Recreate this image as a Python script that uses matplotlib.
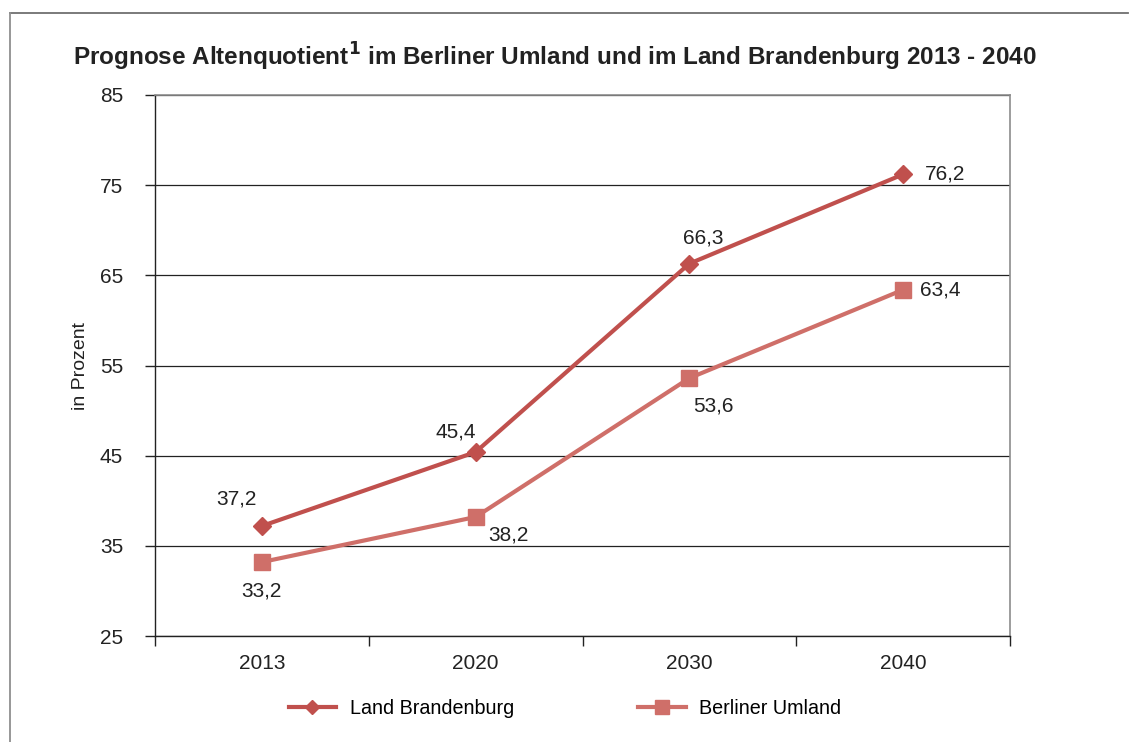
import matplotlib
matplotlib.use("Agg")
import matplotlib.pyplot as plt
from matplotlib.lines import Line2D

plt.rcParams['font.family'] = ['Liberation Sans', 'DejaVu Sans']

years = ["2013", "2020", "2030", "2040"]
brandenburg = [37.2, 45.4, 66.3, 76.2]
umland = [33.2, 38.2, 53.6, 63.4]
yticks = [25, 35, 45, 55, 65, 75, 85]

c_bb = "#C0504D"
c_um = "#CF6F69"
tc = "#222222"

W, H = 1129, 742
fig = plt.figure(figsize=(W/100, H/100), dpi=100)
# outer frame (top and left edges visible)
fig.add_artist(Line2D([10/W, 1128/W], [1-13/H, 1-13/H], transform=fig.transFigure,
                      color="#6f6f6f", lw=1.3))
fig.add_artist(Line2D([10/W, 10/W], [0, 1-13/H], transform=fig.transFigure,
                      color="#8f8f8f", lw=1.3))

ax = fig.add_axes([155/W, 1-636/H, (1010-155)/W, (636-95)/H])
x = list(range(len(years)))
ax.plot(x, brandenburg, color=c_bb, lw=3, marker='D', markersize=9, zorder=3)
ax.plot(x, umland, color=c_um, lw=3, marker='s', markersize=12, zorder=3)

ax.set_xlim(-0.5, len(years)-0.5)
ax.set_ylim(25, 85)
ax.set_yticks(yticks)
ax.set_yticklabels([str(v) for v in yticks])
ax.yaxis.grid(True, color=tc, lw=0.9)
ax.set_axisbelow(True)
ax.set_xticks([i - 0.5 for i in range(len(years)+1)], minor=False)
ax.set_xticklabels([])
ax.set_xticks(x, minor=True)
ax.set_xticklabels(years, minor=True)
ax.tick_params(axis='x', which='minor', length=0, pad=13, labelsize=15, labelcolor=tc)
ax.tick_params(axis='x', which='major', length=7, width=1, color=tc, direction='out')
ax.tick_params(axis='y', length=7, width=1, color=tc, labelsize=15, pad=16, labelcolor=tc)
for s in ['top', 'right']:
    ax.spines[s].set_color("#8c8c8c")
    ax.spines[s].set_linewidth(1.2)
for s in ['left', 'bottom']:
    ax.spines[s].set_color(tc)
    ax.spines[s].set_linewidth(1)
ax.set_ylabel("in Prozent", fontsize=14, labelpad=8, color=tc)

def fmt(v):
    return f"{v:.1f}".replace(".", ",")

offs_bb = [(-25, 27), (-20, 20), (14, 26), (42, 0)]
offs_um = [(0, -29), (33, -18), (24, -28), (37, 0)]
for i, v in enumerate(brandenburg):
    ax.annotate(fmt(v), (i, v), xytext=offs_bb[i], textcoords='offset pixels',
                ha='center', va='center', fontsize=15, color=tc)
for i, v in enumerate(umland):
    ax.annotate(fmt(v), (i, v), xytext=offs_um[i], textcoords='offset pixels',
                ha='center', va='center', fontsize=15, color=tc)

fig.text(555/W, 1-57/H, r"Prognose Altenquotient$^\mathbf{1}$ im Berliner Umland und im Land Brandenburg 2013 - 2040",
         ha='center', va='center', fontsize=17.5, fontweight='bold', color=tc)

handles = [Line2D([], [], color=c_bb, lw=3, marker='D', markersize=7),
           Line2D([], [], color=c_um, lw=3, marker='s', markersize=10)]
fig.legend(handles, ["Land Brandenburg", "Berliner Umland"], loc='center',
           bbox_to_anchor=(565/W, 1-708/H), ncol=2, frameon=False, fontsize=14.2,
           handlelength=2.4, columnspacing=6.3, handletextpad=0.7)

fig.savefig("out.png", dpi=100)
